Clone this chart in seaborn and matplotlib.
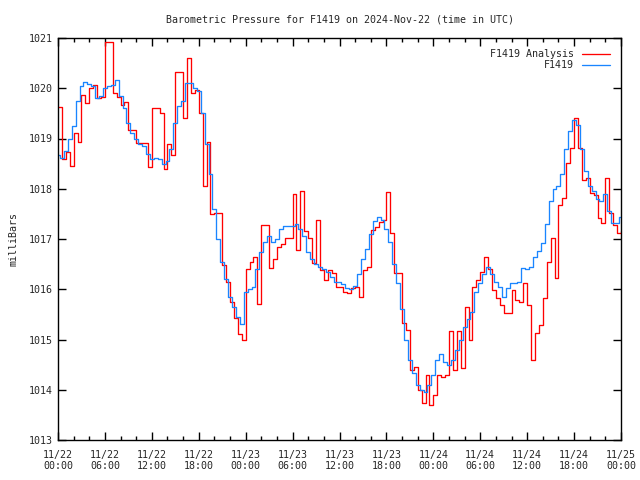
import matplotlib
matplotlib.use('Agg')
import matplotlib.pyplot as plt
import matplotlib.dates as mdates
import seaborn as sns
import pandas as pd

# readings every 30 minutes, 2024-11-22 00:00 .. 2024-11-25 00:00 UTC
analysis = [
    1019.63, 1018.60, 1018.73, 1018.45, 1019.10, 1018.94, 1019.87, 1019.70, 1020.00, 1020.06, 1019.80, 1019.83,
    1020.93, 1020.93, 1019.90, 1019.83, 1019.67, 1019.73, 1019.17, 1019.17, 1018.91, 1018.91, 1018.91, 1018.44,
    1019.60, 1019.60, 1019.50, 1018.40, 1018.90, 1018.67, 1020.33, 1020.33, 1019.40, 1020.60, 1019.90, 1019.96,
    1019.50, 1018.05, 1018.94, 1017.50, 1017.52, 1017.52, 1016.48, 1016.14, 1015.75, 1015.43, 1015.10, 1015.00,
    1016.40, 1016.55, 1016.64, 1015.70, 1017.28, 1017.28, 1016.42, 1016.60, 1016.85, 1016.90, 1017.02, 1017.02,
    1017.90, 1016.78, 1017.95, 1017.15, 1017.02, 1016.52, 1017.38, 1016.38, 1016.18, 1016.38, 1016.32, 1016.05,
    1016.05, 1015.95, 1015.92, 1016.02, 1016.05, 1015.85, 1016.38, 1016.45, 1017.18, 1017.24, 1017.34, 1017.38,
    1017.94, 1017.12, 1016.32, 1016.32, 1015.32, 1015.19, 1014.39, 1014.46, 1014.00, 1013.74, 1014.30, 1013.70,
    1013.90, 1014.29, 1014.26, 1014.29, 1015.16, 1014.39, 1015.16, 1014.43, 1015.65, 1014.99, 1016.05, 1016.18,
    1016.35, 1016.64, 1016.40, 1015.98, 1015.82, 1015.69, 1015.52, 1015.52, 1015.98, 1015.79, 1015.75, 1016.12,
    1015.69, 1014.59, 1015.12, 1015.29, 1015.82, 1016.55, 1017.02, 1016.22, 1017.68, 1017.82, 1018.51, 1018.81,
    1019.40, 1018.81, 1018.17, 1018.21, 1017.91, 1017.87, 1017.42, 1017.32, 1018.21, 1017.52, 1017.28, 1017.12,
    1017.16,
]

station = [
    1018.67, 1018.62, 1018.75, 1019.00, 1019.25, 1019.75, 1020.05, 1020.12, 1020.08, 1020.05, 1019.80, 1019.85,
    1020.00, 1020.05, 1020.06, 1020.16, 1019.85, 1019.60, 1019.30, 1019.10, 1019.00, 1018.90, 1018.85, 1018.70,
    1018.60, 1018.62, 1018.60, 1018.50, 1018.55, 1018.80, 1019.30, 1019.65, 1019.75, 1020.10, 1020.10, 1020.00,
    1019.95, 1019.50, 1018.90, 1018.30, 1017.60, 1017.00, 1016.55, 1016.20, 1015.85, 1015.65, 1015.45, 1015.30,
    1015.95, 1016.00, 1016.05, 1016.40, 1016.75, 1016.95, 1017.05, 1016.95, 1017.00, 1017.20, 1017.26, 1017.25,
    1017.25, 1017.30, 1017.20, 1017.05, 1016.75, 1016.60, 1016.50, 1016.45, 1016.40, 1016.35, 1016.25, 1016.15,
    1016.15, 1016.10, 1016.02, 1016.00, 1016.07, 1016.30, 1016.60, 1016.80, 1017.10, 1017.35, 1017.43, 1017.38,
    1017.20, 1016.95, 1016.50, 1016.12, 1015.60, 1015.00, 1014.60, 1014.33, 1014.10, 1014.00, 1013.95, 1014.10,
    1014.30, 1014.59, 1014.72, 1014.55, 1014.50, 1014.60, 1014.80, 1015.00, 1015.25, 1015.40, 1015.55, 1015.95,
    1016.12, 1016.30, 1016.45, 1016.30, 1016.15, 1016.05, 1015.85, 1016.02, 1016.12, 1016.12, 1016.15, 1016.42,
    1016.40, 1016.45, 1016.65, 1016.77, 1016.93, 1017.30, 1017.75, 1018.00, 1018.05, 1018.30, 1018.80, 1019.14,
    1019.37, 1019.27, 1018.80, 1018.35, 1018.05, 1017.95, 1017.80, 1017.75, 1017.90, 1017.55, 1017.31, 1017.31,
    1017.44,
]

times = pd.date_range('2024-11-22 00:00', periods=len(station), freq='30min')

sns.set_style('white')
plt.rcParams['font.family'] = ['DejaVu Sans Mono']
fs = 7.2

fig = plt.figure(figsize=(6.4, 4.8), dpi=100)
ax = fig.add_axes([58 / 640, 40 / 480, 563 / 640, 402 / 480])

sns.lineplot(x=times, y=analysis, ax=ax, color='#ff0000', lw=0.95,
             drawstyle='steps-post', label='F1419 Analysis')
sns.lineplot(x=times, y=station, ax=ax, color='#1a85ff', lw=0.95,
             drawstyle='steps-mid', label='F1419')

ax.set_xlim(times[0], times[-1])
ax.set_ylim(1013, 1021)
ax.set_yticks(range(1013, 1022))

ax.xaxis.set_major_locator(mdates.HourLocator(byhour=[0, 6, 12, 18]))
ax.xaxis.set_minor_locator(mdates.HourLocator(byhour=range(0, 24, 2)))
ax.xaxis.set_major_formatter(mdates.DateFormatter('%m/%d\n%H:%M'))

ax.tick_params(which='both', direction='in', top=True, right=True,
               bottom=True, left=True, color='black', width=1)
ax.tick_params(which='major', length=6, labelsize=fs)
ax.tick_params(axis='x', which='major', pad=7)
ax.tick_params(which='minor', length=3)
for sp in ax.spines.values():
    sp.set_color('black')
    sp.set_linewidth(1)

ax.set_xlabel('')
ax.set_ylabel('milliBars', fontsize=fs, labelpad=8)
ax.grid(False)

ax.legend(loc='upper right', frameon=False, markerfirst=False, fontsize=fs,
          handlelength=2.8, borderaxespad=0.7, labelspacing=0.15, handletextpad=0.8)

# title is centred over the plotting area
fig.text(339.5 / 640, 1 - 20 / 480, 'Barometric Pressure for F1419 on 2024-Nov-22 (time in UTC)',
         ha='center', va='center', fontsize=fs)

plt.savefig('out.png', dpi=100)
plt.close()
